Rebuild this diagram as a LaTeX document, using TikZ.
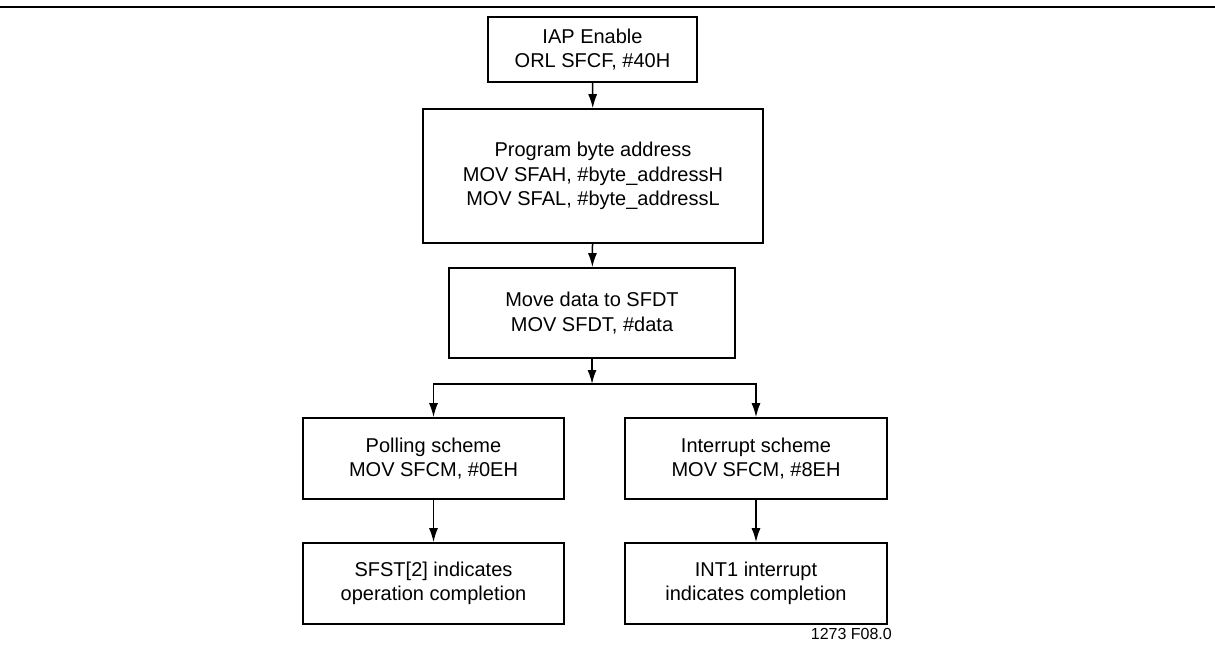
\documentclass[tikz,border=0pt]{standalone}
\usepackage{fontspec}
\setmainfont{Liberation Sans}
\usetikzlibrary{arrows.meta}
\tikzset{
  box/.style={draw, line width=1.6pt, align=center, inner sep=0pt,
    font=\fontsize{20}{24.5}\selectfont},
  flow/.style={line width=1.5pt, -{Latex[length=14pt,width=9pt]}}
}
\begin{document}
\begin{tikzpicture}[x=1pt,y=-1pt]
  \useasboundingbox (0,0) rectangle (1215,647);
  \draw[line width=2.4pt] (0,7) -- (1215,7);
  \draw
    (592.5,49.5) node[box,minimum width=209pt,minimum height=65pt] (iap){IAP Enable\\ORL SFCF, \#40H}
    (593,176) node[box,minimum width=340pt,minimum height=134pt] (prog){Program byte address\\MOV SFAH, \#byte\_addressH\\MOV SFAL, \#byte\_addressL}
    (592,313) node[box,minimum width=286pt,minimum height=90pt] (move){Move data to SFDT\\MOV SFDT, \#data}
    (433.5,458.5) node[box,minimum width=261pt,minimum height=81pt] (poll){Polling scheme\\MOV SFCM, \#0EH}
    (756,458.5) node[box,minimum width=262pt,minimum height=81pt] (intr){Interrupt scheme\\MOV SFCM, \#8EH}
    (433.5,583.5) node[box,minimum width=261pt,minimum height=81pt] (sfst){SFST[2] indicates\\operation completion}
    (756,583.5) node[box,minimum width=262pt,minimum height=81pt] (int1){INT1 interrupt\\indicates completion}
    (892,634) node[anchor=east,inner sep=0pt,font=\fontsize{16}{18}\selectfont] (fig){1273 F08.0};
  \coordinate (split) at (592,384);
  \begin{scope}[flow]
    \draw (iap) -- (prog);
    \draw (prog) -- (move);
    \draw (move) -- (split);
    \draw (split) -| (poll);
    \draw (split) -| (intr);
    \draw (poll) -- (sfst);
    \draw (intr) -- (int1);
  \end{scope}
\end{tikzpicture}
\end{document}
